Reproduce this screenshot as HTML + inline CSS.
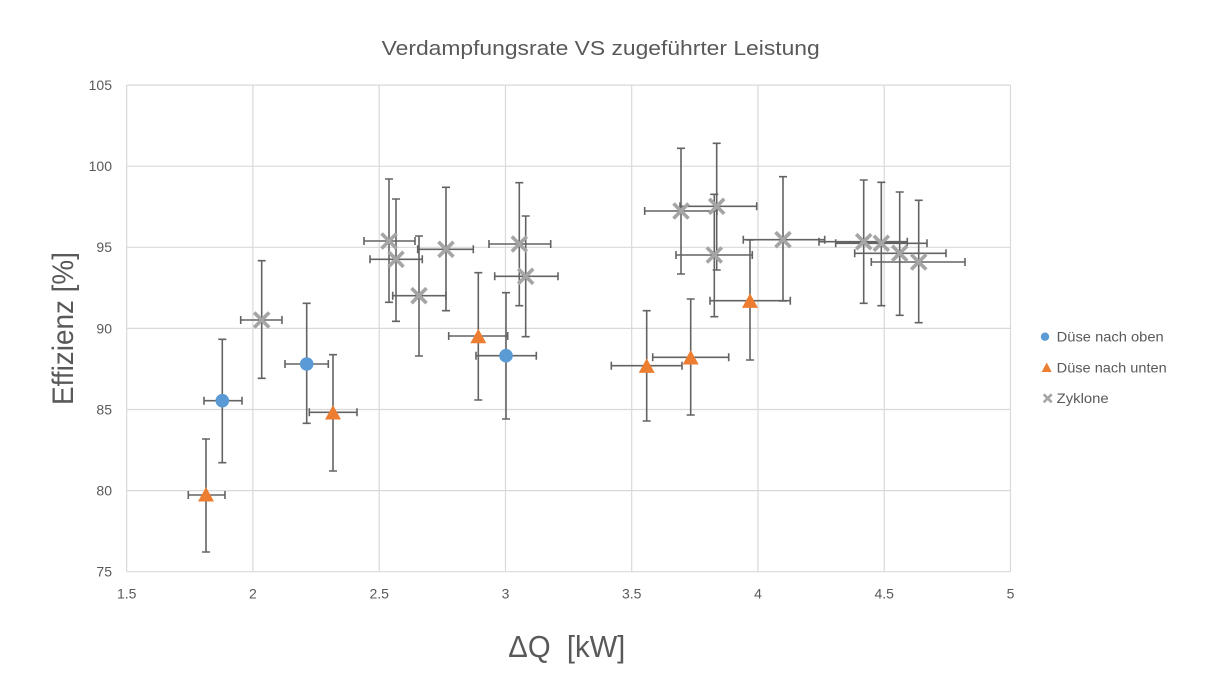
<!DOCTYPE html>
<html><head><meta charset="utf-8"><style>
html,body{margin:0;padding:0;background:#fff;}
svg{display:block;}
text{font-family:"Liberation Sans",sans-serif;fill:#595959;}
</style></head><body>
<svg width="1206" height="693" viewBox="0 0 1206 693" xmlns="http://www.w3.org/2000/svg">
<rect width="1206" height="693" fill="#fff"/>
<!-- grid -->
<g stroke="#d9d9d9" stroke-width="1.2" fill="none">
<line x1="126.7" y1="85.1" x2="1010.5" y2="85.1"/>
<line x1="126.7" y1="166.2" x2="1010.5" y2="166.2"/>
<line x1="126.7" y1="247.3" x2="1010.5" y2="247.3"/>
<line x1="126.7" y1="328.4" x2="1010.5" y2="328.4"/>
<line x1="126.7" y1="409.5" x2="1010.5" y2="409.5"/>
<line x1="126.7" y1="490.6" x2="1010.5" y2="490.6"/>
<line x1="126.7" y1="571.7" x2="1010.5" y2="571.7"/>
<line x1="126.7" y1="85.1" x2="126.7" y2="571.7"/>
<line x1="252.9" y1="85.1" x2="252.9" y2="571.7"/>
<line x1="379.2" y1="85.1" x2="379.2" y2="571.7"/>
<line x1="505.5" y1="85.1" x2="505.5" y2="571.7"/>
<line x1="631.7" y1="85.1" x2="631.7" y2="571.7"/>
<line x1="758" y1="85.1" x2="758" y2="571.7"/>
<line x1="884.2" y1="85.1" x2="884.2" y2="571.7"/>
<line x1="1010.5" y1="85.1" x2="1010.5" y2="571.7"/>
</g>
<!-- title -->
<text x="381.7" y="55" font-size="20" textLength="438" lengthAdjust="spacingAndGlyphs">Verdampfungsrate VS zugeführter Leistung</text>
<!-- y ticks -->
<g font-size="14" text-anchor="end">
<text x="112" y="90">105</text>
<text x="112" y="171.1">100</text>
<text x="112" y="252.2">95</text>
<text x="112" y="333.3">90</text>
<text x="112" y="414.4">85</text>
<text x="112" y="495.5">80</text>
<text x="112" y="576.6">75</text>
</g>
<!-- x ticks -->
<g font-size="14" text-anchor="middle">
<text x="126.7" y="598.5">1.5</text>
<text x="252.9" y="598.5">2</text>
<text x="379.2" y="598.5">2.5</text>
<text x="505.5" y="598.5">3</text>
<text x="631.7" y="598.5">3.5</text>
<text x="758" y="598.5">4</text>
<text x="884.2" y="598.5">4.5</text>
<text x="1010.5" y="598.5">5</text>
</g>
<!-- axis titles -->
<text x="508.3" y="657" font-size="31" textLength="117" lengthAdjust="spacingAndGlyphs" xml:space="preserve">ΔQ  [kW]</text>
<text transform="translate(73,405) rotate(-90)" x="0" y="0" font-size="30" textLength="153" lengthAdjust="spacingAndGlyphs">Effizienz [%]</text>

<g stroke="#636363" stroke-width="1.6" fill="none">
<!-- blue -->
<path d="M222.3 339.3V462.7M218.3 339.3h8M218.3 462.7h8M204 400.7H242M204 396.7v8M242 396.7v8"/>
<path d="M306.7 303.3V423.3M302.7 303.3h8M302.7 423.3h8M285 364H328.3M285 360v8M328.3 360v8"/>
<path d="M506 292.7V419M502 292.7h8M502 419h8M476 355.7H536.3M476 351.7v8M536.3 351.7v8"/>
<!-- orange -->
<path d="M206 439V552M202 439h8M202 552h8M188.3 495H225M188.3 491v8M225 491v8"/>
<path d="M333 354.7V471M329 354.7h8M329 471h8M309.3 412.3H357M309.3 408.3v8M357 408.3v8"/>
<path d="M478.3 272.7V400M474.3 272.7h8M474.3 400h8M448.7 336H507.7M448.7 332v8M507.7 332v8"/>
<path d="M646.7 310.7V421M642.7 310.7h8M642.7 421h8M611.3 365.7H682M611.3 361.7v8M682 361.7v8"/>
<path d="M690.7 299V415M686.7 299h8M686.7 415h8M652.7 357.3H728.7M652.7 353.3v8M728.7 353.3v8"/>
<path d="M750 240V360M746 240h8M746 360h8M710 300.7H790.3M710 296.7v8M790.3 296.7v8"/>
<!-- gray -->
<path d="M261.7 260.7V378.3M257.7 260.7h8M257.7 378.3h8M240.7 320H282M240.7 316v8M282 316v8"/>
<path d="M389 179V302.3M385 179h8M385 302.3h8M364 241H415M364 237v8M415 237v8"/>
<path d="M396 199V321.3M392 199h8M392 321.3h8M370 259.3H422.3M370 255.3v8M422.3 255.3v8"/>
<path d="M419 236V356M415 236h8M415 356h8M392.7 295.7H446M392.7 291.7v8M446 291.7v8"/>
<path d="M446 187.3V310.7M442 187.3h8M442 310.7h8M417.7 249.3H473.3M417.7 245.3v8M473.3 245.3v8"/>
<path d="M519.3 182.7V305.7M515.3 182.7h8M515.3 305.7h8M489 244H550.7M489 240v8M550.7 240v8"/>
<path d="M525.7 216V336.7M521.7 216h8M521.7 336.7h8M494.7 276.3H558M494.7 272.3v8M558 272.3v8"/>
<path d="M681 148.3V274M677 148.3h8M677 274h8M644.7 211H717M644.7 207v8M717 207v8"/>
<path d="M716.7 143.3V270M712.7 143.3h8M712.7 270h8M680 206.3H756.7M680 202.3v8M756.7 202.3v8"/>
<path d="M714.3 194.3V316.7M710.3 194.3h8M710.3 316.7h8M676 255H752.3M676 251v8M752.3 251v8"/>
<path d="M783 176.7V301M779 176.7h8M779 301h8M743.3 239.7H824.7M743.3 235.7v8M824.7 235.7v8"/>
<path d="M863.7 180V303.3M859.7 180h8M859.7 303.3h8M819 241.7H907.3M819 237.7v8M907.3 237.7v8"/>
<path d="M881.3 182.3V305.7M877.3 182.3h8M877.3 305.7h8M835.7 243.3H927M835.7 239.3v8M927 239.3v8"/>
<path d="M899.7 192V315.3M895.7 192h8M895.7 315.3h8M854.7 253.3H946M854.7 249.3v8M946 249.3v8"/>
<path d="M918.7 200.3V322.7M914.7 200.3h8M914.7 322.7h8M871.3 262H965M871.3 258v8M965 258v8"/>
</g>

<!-- blue markers -->
<g fill="#5B9BD5">
<circle cx="222.3" cy="400.7" r="6.8"/>
<circle cx="306.7" cy="364" r="6.8"/>
<circle cx="506" cy="355.7" r="6.8"/>
</g>
<!-- orange markers -->
<g fill="#ED7D31">
<path d="M206 487l8 14.5h-16z"/>
<path d="M333 405l8 14.5h-16z"/>
<path d="M478.3 328.7l8 14.5h-16z"/>
<path d="M646.7 358.4l8 14.5h-16z"/>
<path d="M690.7 350l8 14.5h-16z"/>
<path d="M750 293.4l8 14.5h-16z"/>
</g>
<!-- gray X markers -->
<g stroke="#A5A5A5" stroke-width="3.6" fill="none" stroke-linecap="butt">
<path d="M254.2 312.5l15 15M269.2 312.5l-15 15"/>
<path d="M381.5 233.5l15 15M396.5 233.5l-15 15"/>
<path d="M388.5 251.8l15 15M403.5 251.8l-15 15"/>
<path d="M411.5 288.2l15 15M426.5 288.2l-15 15"/>
<path d="M438.5 241.8l15 15M453.5 241.8l-15 15"/>
<path d="M511.8 236.5l15 15M526.8 236.5l-15 15"/>
<path d="M518.2 268.8l15 15M533.2 268.8l-15 15"/>
<path d="M673.5 203.5l15 15M688.5 203.5l-15 15"/>
<path d="M709.2 198.8l15 15M724.2 198.8l-15 15"/>
<path d="M706.8 247.5l15 15M721.8 247.5l-15 15"/>
<path d="M775.5 232.2l15 15M790.5 232.2l-15 15"/>
<path d="M856.2 234.2l15 15M871.2 234.2l-15 15"/>
<path d="M873.8 235.8l15 15M888.8 235.8l-15 15"/>
<path d="M892.2 245.8l15 15M907.2 245.8l-15 15"/>
<path d="M911.2 254.5l15 15M926.2 254.5l-15 15"/>
</g>

<!-- legend -->
<circle cx="1045" cy="336.7" r="4.2" fill="#5B9BD5"/>
<path d="M1046.7 362.5l5 9.5h-10z" fill="#ED7D31"/>
<path d="M1043.7 394.3l8 8M1051.7 394.3l-8 8" stroke="#A5A5A5" stroke-width="2.6" fill="none"/>
<g font-size="14">
<text x="1056.7" y="341.7" textLength="107" lengthAdjust="spacingAndGlyphs">Düse nach oben</text>
<text x="1056.7" y="372.4" textLength="110" lengthAdjust="spacingAndGlyphs">Düse nach unten</text>
<text x="1056.7" y="403" textLength="52" lengthAdjust="spacingAndGlyphs">Zyklone</text>
</g>
</svg>
</body></html>
